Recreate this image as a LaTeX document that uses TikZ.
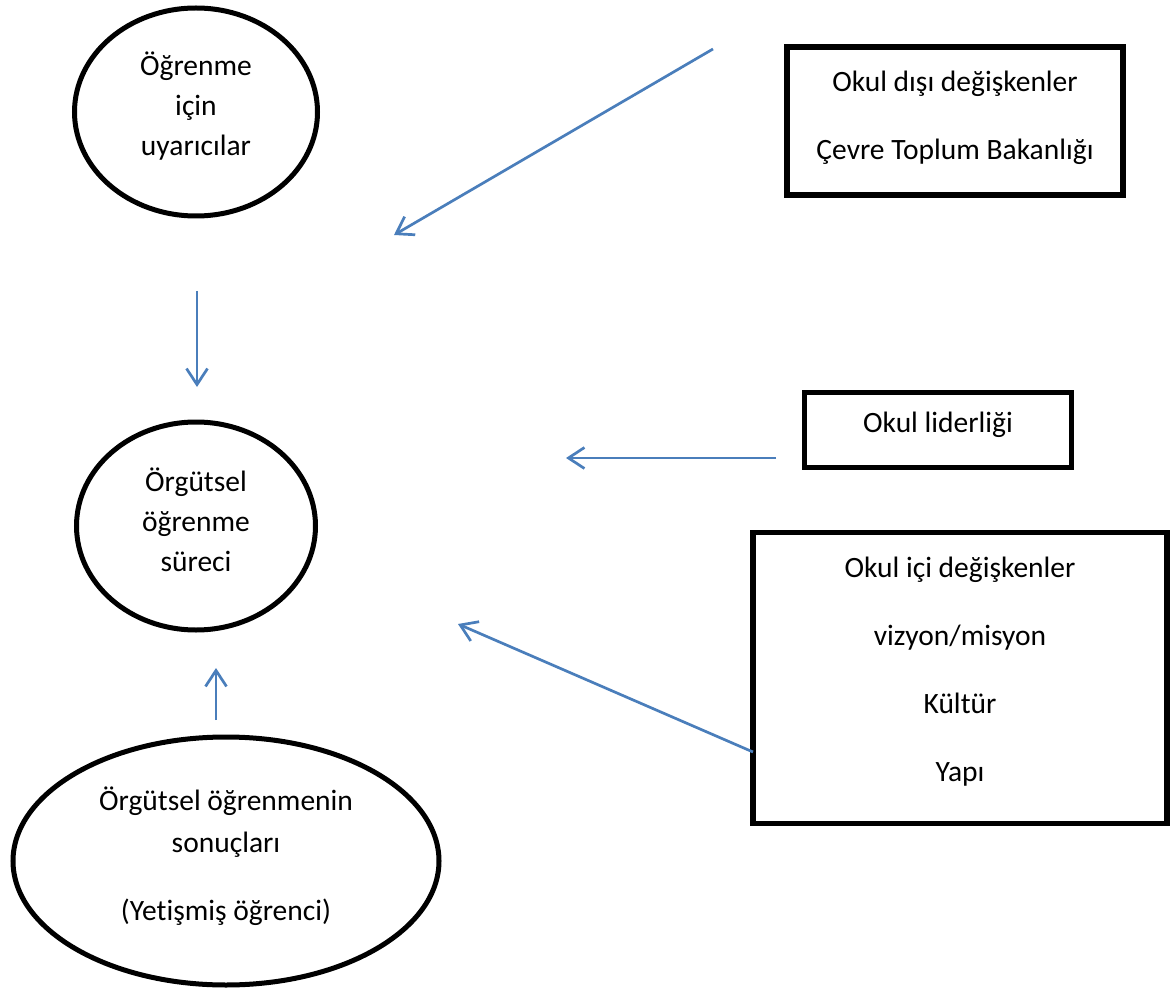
\documentclass[tikz,border=0pt]{standalone}
\usepackage{fontspec}
\setmainfont[Ligatures=NoCommon]{Carlito}
\usetikzlibrary{shapes.geometric,arrows.meta}
\definecolor{linkblue}{HTML}{4A7EBB}
% invisible rule that deepens the last line, lifting a text block in its shape
\newcommand\lowpad[1]{\rule[-#1]{0pt}{#1}}
\begin{document}
\begin{tikzpicture}[x=1pt,y=-1pt,
  oval/.style={ellipse, draw=black, line width=5pt, inner sep=0pt, align=center,
    font=\fontsize{29.5}{40}\selectfont},
  factorbox/.style={rectangle, draw=black, line width=5.2pt, inner sep=0pt, align=center,
    font=\fontsize{29.5}{68}\selectfont},
  flow/.style={draw=linkblue, line width=2.7pt,
    -{Straight Barb[length=16pt,width=21pt,line width=2.7pt]}}]
\useasboundingbox (0,0) rectangle (1170,992);

% ovals on the left
\node[oval, minimum width=243pt, minimum height=208pt] (stim) at (196,112)
  {Öğrenme\\için\\uyarıcılar\lowpad{16pt}};
\node[oval, minimum width=239pt, minimum height=208pt] (proc) at (196,526)
  {Örgütsel\\öğrenme\\süreci\lowpad{12pt}};
\node[oval, minimum width=426pt, minimum height=248pt,
      font=\fontsize{29.5}{42}\selectfont] (out) at (226,861)
  {Örgütsel öğrenmenin\\sonuçları\\[26pt](Yetişmiş öğrenci)\lowpad{15pt}};

% boxes on the right
\node[factorbox, minimum width=336pt, minimum height=148pt] (ext) at (955,121)
  {Okul dışı değişkenler\\Çevre Toplum Bakanlığı\lowpad{11pt}};
\node[factorbox, minimum width=267pt, minimum height=75pt] (lead) at (938,430)
  {Okul liderliği\lowpad{16pt}};
\node[factorbox, minimum width=414pt, minimum height=291pt] (int) at (960,678)
  {Okul içi değişkenler\\vizyon/misyon\\Kültür\\Yapı\lowpad{18pt}};

% free ends of the arrows
\coordinate (a1s) at (713,49);
\coordinate (a1e) at (394,235);
\coordinate (a2s) at (197,291);
\coordinate (a2e) at (197,387);
\coordinate (a3s) at (776,458);
\coordinate (a3e) at (566,458);
\coordinate (a4s) at (753,752);
\coordinate (a4e) at (458,624);
\coordinate (a5s) at (216,720);
\coordinate (a5e) at (216,668);

\draw[flow] (a1s) -- (a1e);
\draw[flow] (a2s) -- (a2e);
\draw[flow] (a3s) -- (a3e);
\draw[flow] (a4s) -- (a4e);
\draw[flow] (a5s) -- (a5e);
\end{tikzpicture}
\end{document}
